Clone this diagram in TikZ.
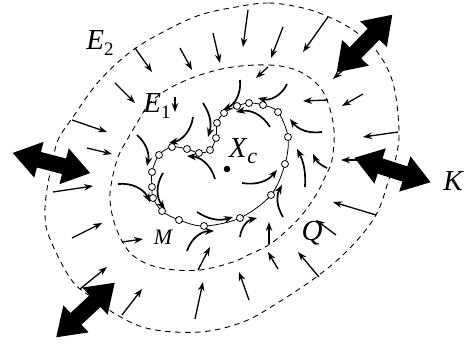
\documentclass[tikz,border=0pt]{standalone}
\usepackage{fontspec}
\setmainfont{Liberation Serif}
\usetikzlibrary{arrows.meta}
\newcommand\bigdarrow[3]{\fill[shift={(#1,#2)},rotate=#3] (-40,0) -- (-13,-18.5) -- (-13,-8) -- (13,-8) -- (13,-18.5) -- (40,0) -- (13,18.5) -- (13,8) -- (-13,8) -- (-13,18.5) -- cycle;}
\begin{document}
\begin{tikzpicture}[x=1pt,y=-1pt,
  bound/.style={dash pattern=on 5.5pt off 4.5pt, line width=0.9pt},
  flow/.style={-{Stealth[length=9pt,width=6.5pt]}, line width=1.3pt},
  cflow/.style={-{Stealth[length=9pt,width=7pt]}, line width=1.7pt},
  bead/.style={circle, draw, fill=white, line width=0.8pt, minimum size=7pt, inner sep=0pt},
  lbl/.style={inner sep=0pt, font=\fontsize{29}{29}\selectfont}]
\useasboundingbox (0,0) rectangle (472,345);
% outer boundary E2
\draw[bound] plot[smooth cycle, tension=0.6] coordinates {(236,7) (269,3) (303,8) (329,17) (353,30) (376,50) (393,83) (399,130) (396,157) (389,179) (376,215) (350,248) (319,275) (279,302) (243,322) (200,332) (150,329) (117,315) (100,302) (73,282) (50,239) (45,215) (47,189) (52,165) (58,140) (73,117) (100,80) (133,50) (167,30) (200,15)};
% inner boundary E1
\draw[bound] plot[smooth cycle, tension=0.6] coordinates {(233,67) (269,65) (296,70) (316,83) (327,100) (334,130) (332,160) (326,175) (316,195) (301,216) (284,233) (267,246) (248,255) (233,262) (200,270) (167,269) (143,262) (127,249) (115,225) (110,200) (112,180) (118,157) (127,140) (137,123) (150,103) (170,88) (200,75)};
% loop M
\draw[line width=0.8pt] plot[smooth cycle, tension=0.55] coordinates {(224,113) (237,106) (249,103) (263,105) (278,112) (288,137) (285,164) (271,195) (240,218) (204,226) (179,220) (162,211) (153,198) (152,187) (152,172) (159,155) (172,147) (187,149) (199,153) (210,150) (216,138) (217,123)};
\foreach \p [count=\i] in {(224,113),(237,106),(249,103),(263,105),(278,112),(288,137),(285,164),(271,195),(240,218),(204,226),(179,220),(162,211),(153,198),(152,187),(152,172),(159,155),(172,147),(187,149),(199,153),(210,150),(216,138),(217,123)}
  \node[bead] (b\i) at \p {};
% centre
\fill (227,169) circle (3.3pt);
% straight flow arrows between the boundaries
\draw[flow] (135,48) -- (152,72);
\draw[flow] (180,48) -- (192,70);
\draw[flow] (213,33) -- (220,63);
\draw[flow] (115,83) -- (135,103);
\draw[flow] (72,120) -- (107,132);
\draw[flow] (87,148) -- (112,154);
\draw[flow] (175,97) -- (175,112);
\draw[flow] (248,10) -- (243,47);
\draw[flow] (283,27) -- (271,58);
\draw[flow] (328,17) -- (303,52);
\draw[flow] (352,62) -- (333,79);
\draw[flow] (268,67) -- (256,78);
\draw[flow] (363,94) -- (342,106);
\draw[flow] (328,100) -- (303,101);
\draw[flow] (398,132) -- (363,137);
\draw[flow] (368,160) -- (341,160);
\draw[flow] (53,192) -- (93,186);
\draw[flow] (72,238) -- (102,223);
\draw[flow] (122,242) -- (143,239);
\draw[flow] (80,289) -- (107,267);
\draw[flow] (122,315) -- (142,289);
\draw[flow] (195,319) -- (203,282);
\draw[flow] (198,270) -- (210,247);
\draw[flow] (376,215) -- (333,202);
\draw[flow] (336,235) -- (316,220);
\draw[flow] (319,277) -- (298,252);
\draw[flow] (278,269) -- (268,252);
\draw[flow] (249,300) -- (239,272);
\draw[flow] (269,244) -- (269,222);
% curved flow arrows inside E1
\draw[cflow] (240,80) to[bend left=35] (223,110);
\draw[cflow] (287,84) to[bend left=40] (258,98);
\draw[cflow] (203,103) to[bend left=25] (208,137);
\draw[cflow] (193,117) to[bend left=35] (169,143);
\draw[cflow] (137,135) to[bend left=30] (147,166);
\draw[cflow] (118,184) to[bend left=35] (150,202);
\draw[cflow] (163,173) to[bend right=35] (165,209);
\draw[cflow] (215,179) to[bend right=35] (187,156);
\draw[cflow] (270,127) to[bend right=35] (236,112);
\draw[cflow] (242,183) to[bend right=30] (277,170);
\draw[cflow] (197,212) to[bend right=25] (233,217);
\draw[cflow] (322,132) to[bend left=30] (290,119);
\draw[cflow] (305,187) to[bend right=15] (297,149);
\draw[cflow] (327,168) to[bend left=20] (313,154);
\draw[cflow] (283,217) to[bend left=30] (282,185);
\draw[cflow] (240,237) to[bend left=35] (257,218);
\draw[cflow] (187,251) to[bend left=35] (214,231);
% big double arrows
\bigdarrow{364.5}{43.5}{46}
\bigdarrow{51.5}{163}{-14.6}
\bigdarrow{85.5}{310}{43}
\bigdarrow{392.5}{170}{-17.8}
% labels
\node[lbl] (E2) at (100,43) {\textit{E}\raisebox{-0.22em}{\fontsize{19}{19}\selectfont 2}};
\node[lbl] (E1) at (157,106) {\textit{E}\raisebox{-0.22em}{\fontsize{19}{19}\selectfont 1}};
\node[lbl] (Xc) at (243,151) {\textit{X}\raisebox{-0.2em}{\fontsize{22}{22}\selectfont\itshape c}};
\node[lbl, font=\fontsize{22}{22}\selectfont\itshape] (M) at (163,237) {M};
\node[lbl, font=\fontsize{29}{29}\selectfont\itshape] (Q) at (312,233) {Q};
\node[lbl, font=\fontsize{29}{29}\selectfont\itshape] (K) at (453,181) {K};
\end{tikzpicture}
\end{document}
